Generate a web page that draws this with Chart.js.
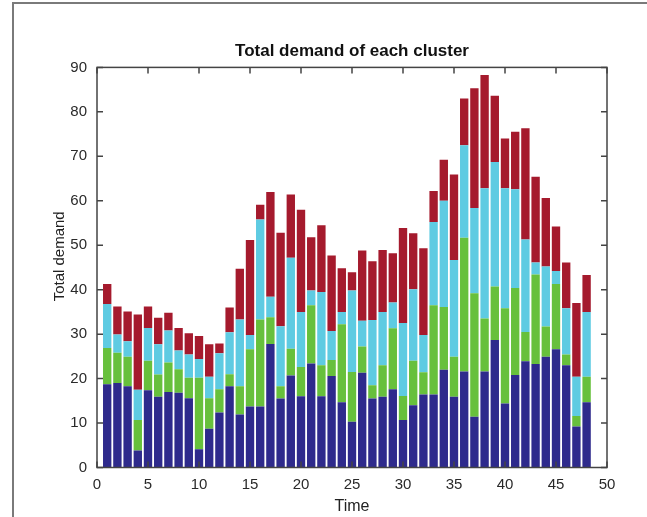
<!DOCTYPE html>
<html>
<head>
<meta charset="utf-8">
<title>Total demand of each cluster</title>
<script src="https://cdn.jsdelivr.net/npm/chart.js@4"></script>
<style>
  html, body { margin: 0; padding: 0; background: #fff; }
  #wrap { position: relative; width: 647px; height: 517px; }
  canvas { display: block; }
</style>
</head>
<body>
<div id="wrap"><canvas id="c" width="647" height="517"></canvas></div>
<script>
// Time steps 1..48
const times = Array.from({length: 48}, (_, i) => i + 1);

// Demand of each cluster per time step (stacked bottom to top)
const cluster1 = [18.7, 19.0, 18.3, 3.8, 17.4, 15.9, 17.0, 16.8, 15.6, 4.1, 8.7, 12.4,
                  18.3, 11.9, 13.7, 13.7, 27.8, 15.5, 20.7, 16.0, 23.4, 16.0, 20.6, 14.7,
                  10.3, 21.3, 15.5, 15.9, 17.6, 10.7, 14.0, 16.4, 16.4, 22.0, 15.9, 21.6,
                  11.4, 21.6, 28.7, 14.4, 20.8, 23.9, 23.3, 24.9, 26.6, 23.0, 9.2, 14.7];
const cluster2 = [8.2, 6.8, 6.6, 6.9, 6.6, 5.0, 6.6, 5.3, 4.6, 16.1, 6.9, 5.2,
                  2.7, 6.4, 12.9, 19.6, 6.0, 2.8, 6.0, 6.6, 13.1, 7.0, 3.6, 17.5,
                  11.2, 5.9, 3.0, 7.1, 13.7, 5.4, 10.0, 5.0, 20.1, 14.1, 9.0, 30.1,
                  27.8, 11.9, 12.0, 21.4, 19.6, 6.6, 20.1, 6.8, 14.7, 2.4, 2.4, 5.7];
const cluster3 = [9.9, 4.1, 3.5, 6.8, 7.4, 6.8, 7.2, 4.2, 5.2, 4.2, 4.8, 8.1,
                  9.4, 15.0, 3.2, 22.5, 4.6, 13.5, 20.5, 12.4, 3.3, 16.5, 6.5, 2.8,
                  18.3, 5.8, 14.7, 12.0, 5.8, 16.4, 16.1, 8.4, 18.7, 23.9, 21.8, 20.8,
                  19.2, 29.3, 28.0, 27.0, 22.2, 20.8, 2.7, 13.5, 2.9, 10.4, 8.8, 14.6];
const cluster4 = [4.5, 6.3, 6.7, 16.9, 4.8, 6.0, 4.0, 5.1, 4.8, 5.2, 7.3, 2.2,
                  5.6, 11.4, 21.4, 3.3, 23.6, 21.0, 14.2, 23.0, 12.0, 15.0, 17.0, 9.8,
                  4.1, 15.8, 13.2, 13.9, 11.1, 21.4, 12.6, 19.5, 7.0, 9.2, 19.2, 10.5,
                  26.9, 25.5, 14.9, 11.2, 12.9, 25.0, 19.3, 15.4, 10.0, 10.3, 16.6, 8.3];

// Axis ticks
const xTicks = [0, 5, 10, 15, 20, 25, 30, 35, 40, 45, 50];
const yTicks = [0, 10, 20, 30, 40, 50, 60, 70, 80, 90];

const seriesColors = ['#2e2a8c', '#67c03c', '#5ecbe2', '#a51a2d'];

const toPoints = vals => vals.map((v, i) => ({x: times[i], y: v}));

const font = 'Liberation Sans, Arial, Helvetica, sans-serif';

// Axis box with inward tick marks on all four sides, plus the y-axis label
const boxPlugin = {
  id: 'axisBox',
  afterDatasetsDraw(chart) {
    const {ctx, chartArea: a, scales: {x, y}} = chart;
    const len = 6;
    ctx.save();
    ctx.strokeStyle = '#444';
    ctx.lineWidth = 1.5;
    ctx.beginPath();
    xTicks.forEach(t => {
      const px = x.getPixelForValue(t);
      ctx.moveTo(px, a.bottom); ctx.lineTo(px, a.bottom - len);
      ctx.moveTo(px, a.top); ctx.lineTo(px, a.top + len);
    });
    yTicks.forEach(t => {
      const py = y.getPixelForValue(t);
      ctx.moveTo(a.left, py); ctx.lineTo(a.left + len, py);
      ctx.moveTo(a.right, py); ctx.lineTo(a.right - len, py);
    });
    ctx.stroke();
    ctx.strokeRect(a.left, a.top, a.right - a.left, a.bottom - a.top);
    ctx.restore();
  },
  afterDraw(chart) {
    const {ctx} = chart;
    ctx.save();
    // y-axis label, sitting a little above the middle of the axis
    ctx.translate(60, chart.scales.y.getPixelForValue(47.5));
    ctx.rotate(-Math.PI / 2);
    ctx.fillStyle = '#222';
    ctx.font = '15px ' + font;
    ctx.textAlign = 'center';
    ctx.textBaseline = 'middle';
    ctx.fillText('Total demand', 0, 0);
    ctx.restore();

    // page frame along the top and left edges
    ctx.save();
    ctx.strokeStyle = '#7a7a7a';
    ctx.lineWidth = 2;
    ctx.beginPath();
    ctx.moveTo(647, 3); ctx.lineTo(13, 3); ctx.lineTo(13, 517);
    ctx.stroke();
    ctx.restore();
  }
};

new Chart(document.getElementById('c'), {
  type: 'bar',
  data: {
    datasets: [cluster1, cluster2, cluster3, cluster4].map((vals, i) => ({
      label: 'Cluster ' + (i + 1),
      data: toPoints(vals),
      backgroundColor: seriesColors[i],
      borderWidth: 0,
      barPercentage: 0.82,
      categoryPercentage: 1.0
    }))
  },
  options: {
    responsive: false,
    animation: false,
    layout: { padding: { left: 0, right: 40, top: 0, bottom: 0 } },
    plugins: {
      legend: { display: false },
      tooltip: { enabled: false },
      title: {
        display: true,
        text: 'Total demand of each cluster',
        fullSize: false,
        color: '#111',
        font: { family: font, size: 17, weight: 'bold' },
        padding: { top: 41, bottom: 6 }
      }
    },
    scales: {
      x: {
        type: 'linear',
        stacked: true,
        offset: false,
        min: 0, max: 50,
        grid: { display: false, drawTicks: false },
        border: { display: false },
        afterBuildTicks: s => { s.ticks = xTicks.map(v => ({value: v})); },
        afterFit: s => { s.height = 49.5; },
        ticks: { color: '#2a2a2a', font: { family: font, size: 15 }, padding: 8, maxRotation: 0, autoSkip: false },
        title: { display: true, text: 'Time', color: '#222', font: { family: font, size: 16 }, padding: { top: 0, bottom: 1 } }
      },
      y: {
        stacked: true,
        min: 0, max: 90,
        grid: { display: false, drawTicks: false },
        border: { display: false },
        afterBuildTicks: s => { s.ticks = yTicks.map(v => ({value: v})); },
        afterFit: s => { s.width = 97; },
        ticks: { color: '#2a2a2a', font: { family: font, size: 15 }, padding: 10, autoSkip: false }
      }
    }
  },
  plugins: [boxPlugin]
});
</script>
</body>
</html>
